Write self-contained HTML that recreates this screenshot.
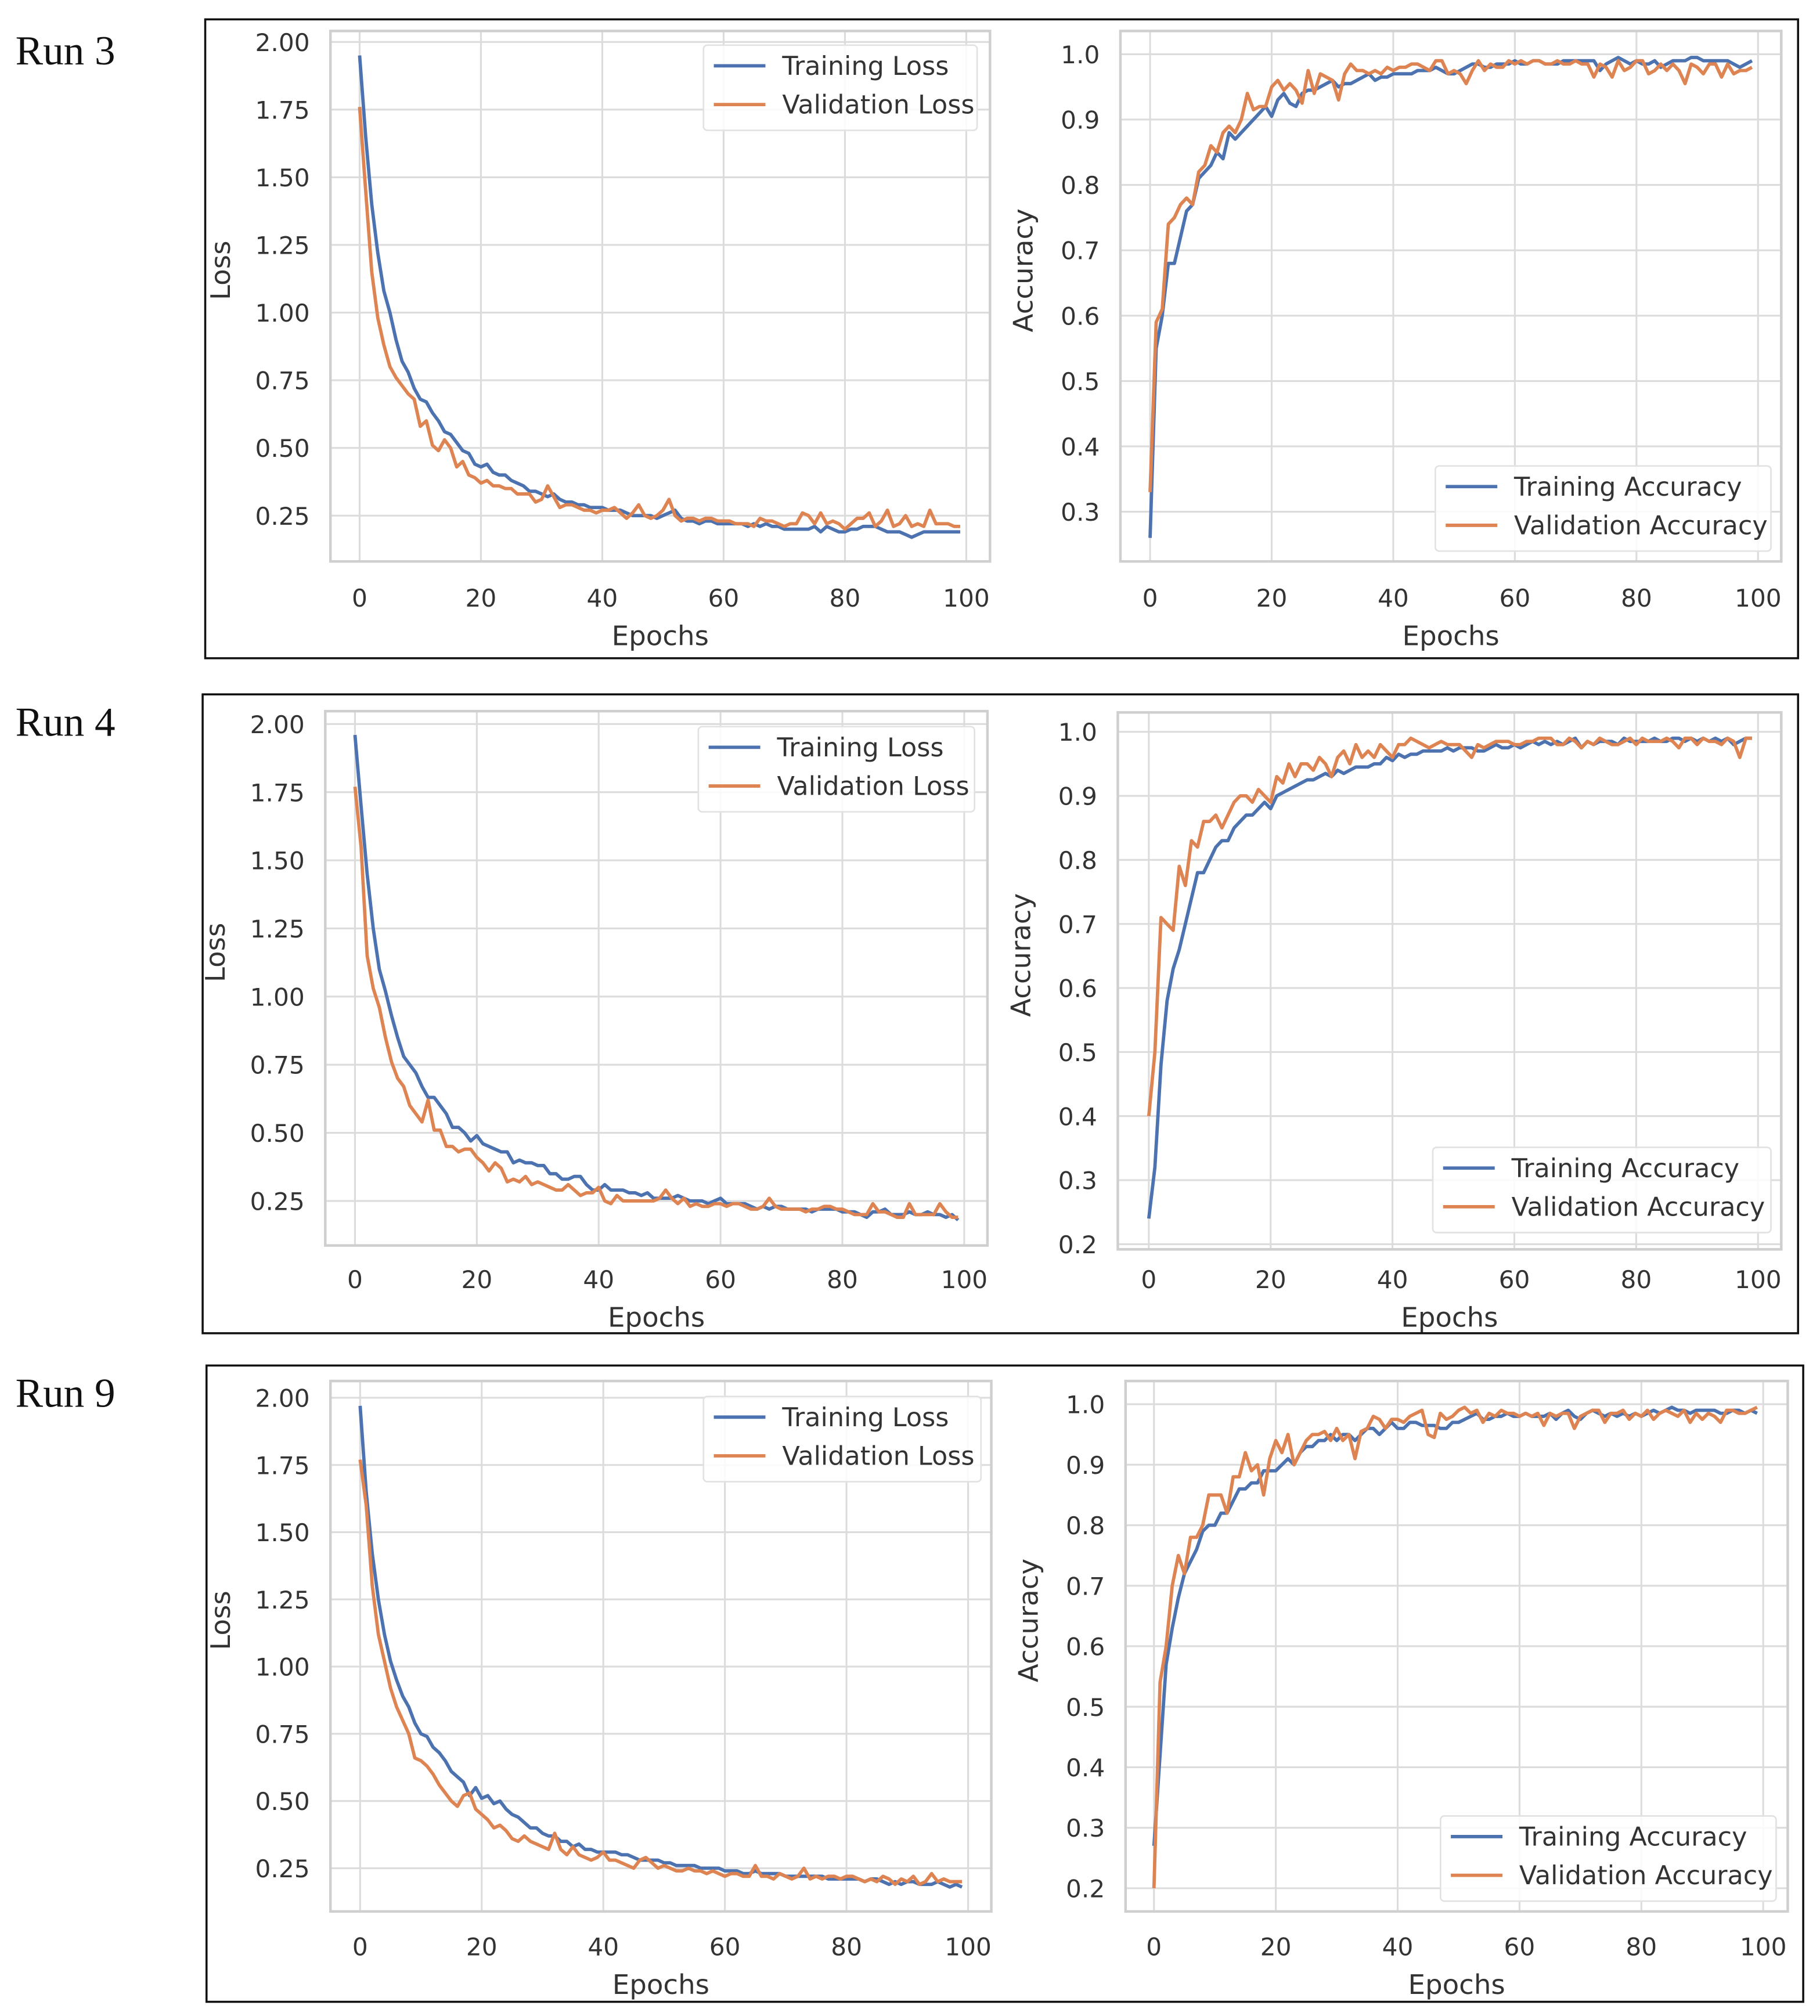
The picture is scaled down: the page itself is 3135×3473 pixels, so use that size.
<!DOCTYPE html>
<html><head><meta charset="utf-8"><style>
html,body{margin:0;padding:0;background:#fff;}
svg{display:block;}
</style></head><body>
<svg id="fig" xmlns="http://www.w3.org/2000/svg" width="3135" height="3473" viewBox="0 0 1410 1562" preserveAspectRatio="none"></svg>
<script>
const epochTicks = [0, 20, 40, 60, 80, 100];
const lossTicks = [0.25, 0.50, 0.75, 1.00, 1.25, 1.50, 1.75, 2.00];
const lossTickLabels = ["0.25","0.50","0.75","1.00","1.25","1.50","1.75","2.00"];
const accTicks3 = [0.3,0.4,0.5,0.6,0.7,0.8,0.9,1.0];
const accTicks = [0.2,0.3,0.4,0.5,0.6,0.7,0.8,0.9,1.0];
const runNames = ["Run 3","Run 4","Run 9"];

const r3TrainLoss = [1.95,1.65,1.40,1.22,1.08,1.00,0.90,0.82,0.78,0.72,0.68,0.67,0.63,0.60,0.56,0.55,0.52,0.49,0.48,0.44,0.43,0.44,0.41,0.40,0.40,0.38,0.37,0.36,0.34,0.34,0.33,0.32,0.33,0.31,0.30,0.30,0.29,0.29,0.28,0.28,0.28,0.27,0.27,0.27,0.26,0.25,0.25,0.25,0.25,0.24,0.25,0.26,0.27,0.24,0.23,0.23,0.22,0.23,0.23,0.22,0.22,0.22,0.22,0.22,0.21,0.22,0.21,0.22,0.21,0.21,0.20,0.20,0.20,0.20,0.20,0.21,0.19,0.21,0.20,0.19,0.19,0.20,0.20,0.21,0.21,0.21,0.20,0.19,0.19,0.19,0.18,0.17,0.18,0.19,0.19,0.19,0.19,0.19,0.19,0.19];
const r3ValLoss = [1.76,1.45,1.15,0.98,0.88,0.80,0.76,0.73,0.70,0.68,0.58,0.60,0.51,0.49,0.53,0.50,0.43,0.45,0.40,0.39,0.37,0.38,0.36,0.36,0.35,0.35,0.33,0.33,0.33,0.30,0.31,0.36,0.32,0.28,0.29,0.29,0.28,0.27,0.27,0.26,0.27,0.27,0.28,0.26,0.24,0.26,0.29,0.25,0.24,0.25,0.27,0.31,0.25,0.23,0.24,0.24,0.23,0.24,0.24,0.23,0.23,0.23,0.22,0.22,0.22,0.21,0.24,0.23,0.23,0.22,0.21,0.22,0.22,0.26,0.25,0.22,0.26,0.22,0.23,0.22,0.20,0.22,0.24,0.24,0.26,0.21,0.23,0.27,0.21,0.22,0.25,0.21,0.22,0.21,0.27,0.22,0.22,0.22,0.21,0.21];
const r3TrainAcc = [0.26,0.55,0.60,0.68,0.68,0.72,0.76,0.77,0.81,0.82,0.83,0.85,0.84,0.88,0.87,0.88,0.89,0.90,0.91,0.92,0.905,0.93,0.94,0.925,0.92,0.94,0.945,0.945,0.95,0.955,0.96,0.95,0.955,0.955,0.96,0.965,0.97,0.96,0.965,0.965,0.97,0.97,0.97,0.97,0.975,0.975,0.975,0.98,0.975,0.97,0.97,0.975,0.98,0.985,0.985,0.98,0.98,0.985,0.985,0.985,0.99,0.985,0.985,0.99,0.99,0.985,0.985,0.985,0.99,0.99,0.99,0.99,0.99,0.99,0.975,0.985,0.99,0.995,0.99,0.985,0.99,0.985,0.985,0.99,0.98,0.985,0.99,0.99,0.99,0.995,0.995,0.99,0.99,0.99,0.99,0.99,0.985,0.98,0.985,0.99];
const r3ValAcc = [0.33,0.59,0.61,0.74,0.75,0.77,0.78,0.77,0.82,0.83,0.86,0.85,0.88,0.89,0.88,0.90,0.94,0.915,0.92,0.92,0.95,0.96,0.945,0.955,0.945,0.925,0.975,0.94,0.97,0.965,0.96,0.93,0.97,0.985,0.975,0.975,0.97,0.975,0.97,0.98,0.975,0.98,0.98,0.985,0.985,0.98,0.975,0.99,0.99,0.97,0.975,0.97,0.955,0.975,0.99,0.975,0.985,0.98,0.98,0.99,0.985,0.99,0.985,0.99,0.99,0.985,0.985,0.99,0.985,0.985,0.99,0.985,0.985,0.965,0.985,0.98,0.965,0.99,0.975,0.98,0.99,0.99,0.97,0.975,0.985,0.975,0.985,0.975,0.955,0.985,0.98,0.97,0.985,0.985,0.965,0.985,0.97,0.975,0.975,0.98];

const r4TrainLoss = [1.96,1.70,1.45,1.25,1.10,1.02,0.93,0.85,0.78,0.75,0.72,0.67,0.63,0.63,0.60,0.57,0.52,0.52,0.50,0.47,0.49,0.46,0.45,0.44,0.43,0.43,0.39,0.40,0.39,0.39,0.38,0.38,0.35,0.35,0.33,0.33,0.34,0.34,0.31,0.29,0.29,0.31,0.29,0.29,0.29,0.28,0.28,0.27,0.28,0.26,0.26,0.26,0.26,0.27,0.26,0.25,0.25,0.25,0.24,0.25,0.26,0.24,0.24,0.24,0.24,0.23,0.22,0.23,0.22,0.23,0.23,0.22,0.22,0.22,0.22,0.21,0.22,0.22,0.22,0.22,0.21,0.21,0.21,0.20,0.19,0.21,0.21,0.22,0.20,0.20,0.20,0.21,0.20,0.20,0.21,0.20,0.20,0.19,0.20,0.18];
const r4ValLoss = [1.77,1.55,1.15,1.03,0.96,0.85,0.76,0.70,0.67,0.60,0.57,0.54,0.62,0.51,0.51,0.45,0.45,0.43,0.44,0.44,0.41,0.39,0.36,0.39,0.37,0.32,0.33,0.32,0.34,0.31,0.32,0.31,0.30,0.29,0.29,0.31,0.29,0.27,0.28,0.28,0.30,0.25,0.24,0.27,0.25,0.25,0.25,0.25,0.25,0.25,0.26,0.29,0.26,0.24,0.26,0.23,0.24,0.23,0.23,0.24,0.24,0.23,0.24,0.24,0.23,0.22,0.22,0.23,0.26,0.23,0.22,0.22,0.22,0.22,0.21,0.22,0.22,0.23,0.23,0.22,0.22,0.21,0.20,0.20,0.20,0.24,0.21,0.21,0.20,0.19,0.19,0.24,0.20,0.20,0.20,0.20,0.24,0.21,0.19,0.19];
const r4TrainAcc = [0.24,0.32,0.48,0.58,0.63,0.66,0.70,0.74,0.78,0.78,0.80,0.82,0.83,0.83,0.85,0.86,0.87,0.87,0.88,0.89,0.88,0.90,0.905,0.91,0.915,0.92,0.925,0.925,0.93,0.935,0.93,0.94,0.935,0.94,0.945,0.945,0.945,0.95,0.95,0.96,0.955,0.965,0.96,0.965,0.965,0.97,0.97,0.97,0.97,0.975,0.97,0.975,0.975,0.975,0.97,0.97,0.975,0.98,0.975,0.975,0.98,0.975,0.98,0.985,0.98,0.985,0.98,0.985,0.98,0.985,0.99,0.975,0.985,0.98,0.985,0.985,0.985,0.98,0.99,0.985,0.985,0.985,0.985,0.99,0.985,0.985,0.99,0.99,0.985,0.99,0.985,0.99,0.985,0.99,0.985,0.99,0.98,0.985,0.99,0.99];
const r4ValAcc = [0.40,0.50,0.71,0.70,0.69,0.79,0.76,0.83,0.82,0.86,0.86,0.87,0.85,0.87,0.89,0.90,0.90,0.89,0.91,0.90,0.89,0.93,0.92,0.95,0.93,0.95,0.95,0.94,0.96,0.95,0.93,0.96,0.97,0.95,0.98,0.96,0.97,0.96,0.98,0.97,0.96,0.98,0.98,0.99,0.985,0.98,0.975,0.98,0.985,0.98,0.98,0.98,0.97,0.96,0.98,0.975,0.98,0.985,0.985,0.985,0.98,0.98,0.985,0.985,0.99,0.99,0.99,0.98,0.98,0.99,0.985,0.975,0.985,0.98,0.99,0.985,0.98,0.98,0.985,0.99,0.98,0.99,0.985,0.985,0.985,0.99,0.985,0.975,0.99,0.99,0.98,0.99,0.985,0.985,0.98,0.99,0.985,0.96,0.99,0.99];

const r9TrainLoss = [1.97,1.65,1.42,1.25,1.12,1.02,0.95,0.89,0.85,0.79,0.75,0.74,0.70,0.68,0.65,0.61,0.59,0.57,0.52,0.55,0.51,0.52,0.49,0.50,0.47,0.45,0.44,0.42,0.40,0.40,0.38,0.37,0.37,0.35,0.35,0.33,0.34,0.32,0.32,0.31,0.31,0.31,0.31,0.30,0.30,0.29,0.28,0.28,0.28,0.28,0.27,0.27,0.26,0.26,0.26,0.26,0.25,0.25,0.25,0.25,0.24,0.24,0.24,0.23,0.23,0.24,0.23,0.23,0.23,0.23,0.22,0.22,0.22,0.22,0.22,0.22,0.22,0.21,0.21,0.21,0.21,0.21,0.21,0.20,0.21,0.21,0.20,0.19,0.20,0.19,0.20,0.20,0.19,0.19,0.19,0.20,0.19,0.18,0.19,0.18];
const r9ValLoss = [1.77,1.60,1.30,1.12,1.02,0.92,0.85,0.80,0.75,0.66,0.65,0.63,0.60,0.56,0.53,0.50,0.48,0.52,0.53,0.47,0.45,0.43,0.40,0.41,0.39,0.36,0.35,0.37,0.35,0.34,0.33,0.32,0.38,0.32,0.30,0.33,0.30,0.29,0.28,0.29,0.31,0.28,0.28,0.27,0.26,0.25,0.28,0.29,0.27,0.25,0.26,0.25,0.24,0.24,0.25,0.24,0.24,0.23,0.24,0.23,0.22,0.23,0.23,0.22,0.22,0.26,0.22,0.22,0.21,0.23,0.22,0.21,0.22,0.25,0.21,0.22,0.21,0.22,0.22,0.21,0.22,0.22,0.21,0.20,0.21,0.20,0.22,0.21,0.19,0.21,0.20,0.22,0.19,0.20,0.23,0.20,0.21,0.20,0.20,0.20];
const r9TrainAcc = [0.27,0.42,0.57,0.63,0.68,0.72,0.74,0.76,0.79,0.80,0.80,0.82,0.82,0.84,0.86,0.86,0.87,0.87,0.89,0.89,0.89,0.90,0.91,0.90,0.92,0.93,0.93,0.94,0.94,0.95,0.94,0.95,0.95,0.94,0.95,0.96,0.96,0.95,0.96,0.97,0.96,0.96,0.97,0.97,0.965,0.965,0.965,0.96,0.96,0.97,0.97,0.975,0.98,0.985,0.975,0.975,0.98,0.98,0.985,0.98,0.98,0.985,0.98,0.98,0.98,0.985,0.975,0.985,0.99,0.98,0.975,0.985,0.99,0.985,0.98,0.985,0.98,0.985,0.98,0.985,0.98,0.985,0.99,0.985,0.99,0.995,0.99,0.99,0.985,0.99,0.99,0.99,0.99,0.985,0.985,0.99,0.99,0.985,0.99,0.985];
const r9ValAcc = [0.20,0.54,0.60,0.70,0.75,0.72,0.78,0.78,0.80,0.85,0.85,0.85,0.82,0.88,0.88,0.92,0.89,0.90,0.85,0.91,0.94,0.92,0.95,0.90,0.92,0.94,0.95,0.95,0.955,0.94,0.96,0.94,0.95,0.91,0.955,0.96,0.98,0.975,0.96,0.975,0.975,0.97,0.98,0.985,0.99,0.95,0.945,0.985,0.975,0.98,0.99,0.995,0.985,0.99,0.97,0.985,0.98,0.99,0.985,0.985,0.98,0.985,0.98,0.985,0.965,0.985,0.98,0.985,0.985,0.96,0.98,0.985,0.99,0.99,0.97,0.985,0.985,0.99,0.975,0.985,0.98,0.99,0.975,0.985,0.99,0.985,0.98,0.99,0.97,0.985,0.975,0.985,0.98,0.97,0.99,0.99,0.985,0.985,0.99,0.995];

const NS = "http://www.w3.org/2000/svg";
const svg = document.getElementById("fig");
const BLUE = "#4c72b0", ORANGE = "#dd8452";
const FONT = "'DejaVu Sans','Liberation Sans',sans-serif";

function mk(tag, attrs, parent) {
  const e = document.createElementNS(NS, tag);
  for (const k in attrs) e.setAttribute(k, attrs[k]);
  (parent || svg).appendChild(e);
  return e;
}

const layouts = [
  { box:[159,15,1393,510], label:[12,50],
    loss:{ax:[256,767,24,435], x0:278.6, x100:748.6, vA:2.0, pA:32.5, vB:0.25, pB:399.5, tickX:240, ylab:178, xlabY:500, xtY:470, legend:[545,35,212,66]},
    acc:{ax:[868,1380,24,435], x0:891, x100:1362, vA:1.0, pA:42, vB:0.3, pB:396.5, tickX:852, ylab:800, xlabY:500, xtY:470, legend:[1112,361,260,66]} },
  { box:[157,538,1393,1033], label:[12,570],
    loss:{ax:[252,765,551,965], x0:275, x100:747, vA:2.0, pA:561, vB:0.25, pB:930.5, tickX:236, ylab:174, xlabY:1028, xtY:998, legend:[541,563,214,66]},
    acc:{ax:[866,1380,552,968], x0:890, x100:1362, vA:1.0, pA:567, vB:0.2, pB:964, tickX:850, ylab:798, xlabY:1028, xtY:998, legend:[1110,889,262,66]} },
  { box:[160,1058,1397,1551], label:[12,1090],
    loss:{ax:[256,768,1070,1481], x0:279, x100:750, vA:2.0, pA:1083, vB:0.25, pB:1447.5, tickX:240, ylab:178, xlabY:1545, xtY:1515, legend:[545,1082,215,66]},
    acc:{ax:[872,1385,1070,1481], x0:894, x100:1366, vA:1.0, pA:1088, vB:0.2, pB:1463, tickX:856, ylab:804, xlabY:1545, xtY:1515, legend:[1116,1407,260,66]} }
];
const series = [
  [r3TrainLoss, r3ValLoss, r3TrainAcc, r3ValAcc, accTicks3],
  [r4TrainLoss, r4ValLoss, r4TrainAcc, r4ValAcc, accTicks],
  [r9TrainLoss, r9ValLoss, r9TrainAcc, r9ValAcc, accTicks]
];

function panel(L, train, val, yTicks, yLabels, yTitle, legNames, name) {
  const g = mk("g", {});
  
  
  const [x1, x2, y1, y2] = L.ax;
  const sx = v => L.x0 + (L.x100 - L.x0) * v / 100;
  const sy = v => L.pA + (L.pB - L.pA) * (v - L.vA) / (L.vB - L.vA);
  const bg = mk("rect", {x:x1, y:y1, width:x2-x1, height:y2-y1, fill:"#fff"}, g);
  
  
  epochTicks.forEach(t => {
    const ln = mk("line", {x1:sx(t), x2:sx(t), y1:y1, y2:y2, stroke:"#dcdcdc", "stroke-width":1.4}, g);
    
    
    const tx = mk("text", {x:sx(t), y:L.xtY, "font-family":FONT, "font-size":19, fill:"#333", "text-anchor":"middle"}, g);
    tx.textContent = String(t);
    
    
  });
  yTicks.forEach((t, i) => {
    const ln = mk("line", {x1:x1, x2:x2, y1:sy(t), y2:sy(t), stroke:"#dcdcdc", "stroke-width":1.4}, g);
    
    
    const tx = mk("text", {x:L.tickX, y:sy(t)+7, "font-family":FONT, "font-size":19, fill:"#333", "text-anchor":"end"}, g);
    tx.textContent = yLabels[i];
    
    
  });
  const fr = mk("rect", {x:x1, y:y1, width:x2-x1, height:y2-y1, fill:"none", stroke:"#cfcfcf", "stroke-width":2}, g);
  
  
  [[train, BLUE, "training-line"], [val, ORANGE, "validation-line"]].forEach(([d, c, nm]) => {
    const pts = d.map((v, i) => sx(i).toFixed(2) + "," + sy(v).toFixed(2)).join(" ");
    const pl = mk("polyline", {points:pts, fill:"none", stroke:c, "stroke-width":2.6, "stroke-linejoin":"round"}, g);
    
    
  });
  const xt = mk("text", {x:(x1+x2)/2, y:L.xlabY, "font-family":FONT, "font-size":21, fill:"#333", "text-anchor":"middle"}, g);
  xt.textContent = "Epochs";
  
  
  const ym = (y1+y2)/2 - 20;
  const yt = mk("text", {x:L.ylab, y:ym, "font-family":FONT, "font-size":21, fill:"#333", "text-anchor":"middle", transform:`rotate(-90 ${L.ylab} ${ym})`}, g);
  yt.textContent = yTitle;
  
  
  const [lx, ly, lw, lh] = L.legend;
  const lg = mk("g", {}, g);
  
  
  mk("rect", {x:lx, y:ly, width:lw, height:lh, rx:3, fill:"#fff", "fill-opacity":0.85, stroke:"#e2e2e2", "stroke-width":1.2}, lg);
  [[legNames[0], BLUE, 16], [legNames[1], ORANGE, 46]].forEach(([t, c, dy]) => {
    const e = mk("g", {}, lg);
    
    
    mk("line", {x1:lx+8, x2:lx+48, y1:ly+dy, y2:ly+dy, stroke:c, "stroke-width":2.6}, e);
    const tx = mk("text", {x:lx+61, y:ly+dy+7, "font-family":FONT, "font-size":20, fill:"#333"}, e);
    tx.textContent = t;
  });
}

layouts.forEach((Lay, r) => {
  const [tl, vl, ta, va, at] = series[r];
  const b = mk("rect", {x:Lay.box[0], y:Lay.box[1], width:Lay.box[2]-Lay.box[0], height:Lay.box[3]-Lay.box[1], fill:"#fff", stroke:"#111", "stroke-width":1.6});
  
  
  const lab = mk("text", {x:Lay.label[0], y:Lay.label[1], "font-family":"'Liberation Serif',serif", "font-size":32, fill:"#111"});
  lab.textContent = runNames[r];
  
  
  panel(Lay.loss, tl, vl, lossTicks, lossTickLabels, "Loss", ["Training Loss","Validation Loss"], "loss-chart");
  panel(Lay.acc, ta, va, at, at.map(v => v.toFixed(1)), "Accuracy", ["Training Accuracy","Validation Accuracy"], "accuracy-chart");
});
</script>
</body></html>
